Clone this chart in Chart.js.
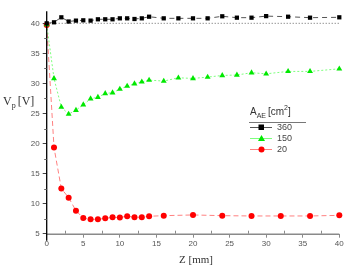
<!DOCTYPE html>
<html lang="en">
<head>
<meta charset="UTF-8">
<title>Vp vs Z</title>
<script src="https://cdn.jsdelivr.net/npm/chart.js"></script>
<style>
  html, body { margin: 0; padding: 0; background: #fff; }
  #wrap { width: 354px; height: 273px; }
</style>
</head>
<body>
<div id="wrap"><canvas id="vpChart" width="354" height="273"></canvas></div>
<script>
// Z positions (mm)
const zLong = [0, 1, 2, 3, 4, 5, 6, 7, 8, 9, 10, 11, 12, 13, 14, 16, 18, 20, 22, 24, 26, 28, 30, 33, 36, 40];
const zRed = [0, 1, 2, 3, 4, 5, 6, 7, 8, 9, 10, 11, 12, 13, 14, 16, 20, 24, 28, 32, 36, 40];

// Vp (V) for A_AE = 360, 150, 20 cm2
const vp360 = [40.0, 40.17, 41.0, 40.3, 40.45, 40.5, 40.45, 40.67, 40.67, 40.67, 40.83, 40.83, 40.72,
               40.83, 41.1, 40.83, 40.83, 40.83, 40.83, 41.17, 40.94, 40.94, 41.2, 41.1, 40.94, 41.0];
const vp150 = [39.8, 30.83, 26.05, 24.9, 25.55, 26.45, 27.45, 27.7, 28.33, 28.45, 29.05, 29.55, 29.95,
               30.27, 30.55, 30.39, 30.94, 30.83, 31.05, 31.33, 31.4, 31.78, 31.6, 32.0, 32.0, 32.43];
const vp20 = [39.7, 19.33, 12.5, 11.0, 8.83, 7.6, 7.4, 7.4, 7.55, 7.73, 7.7, 7.9, 7.75,
              7.75, 7.9, 8.0, 8.12, 8.0, 7.95, 7.95, 7.95, 8.05];

// dotted reference level
const refZ = [0, 40];
const refV = [40, 40];

const legendTitle = 'A';
const legendLabels = ['360', '150', '20'];

const yTicks = [5, 10, 15, 20, 25, 30, 35, 40];
const xTicks = [0, 5, 10, 15, 20, 25, 30, 35, 40];

const pts = (xs, ys) => xs.map((x, i) => ({ x: x, y: ys[i] }));

const decor = {
  id: 'decor',
  afterDraw(chart) {
    const ctx = chart.ctx;
    const xs = chart.scales.x, ys = chart.scales.y;
    const a = chart.chartArea;
    ctx.save();

    // x axis line (grey) + minor ticks inward
    ctx.strokeStyle = '#8a8a8a';
    ctx.lineWidth = 1.5;
    ctx.beginPath();
    ctx.moveTo(a.left, a.bottom + 0.5);
    ctx.lineTo(a.right, a.bottom + 0.5);
    ctx.stroke();
    ctx.lineWidth = 1;
    for (let v = 2.5; v < 40; v += 5) {
      const px = Math.round(xs.getPixelForValue(v)) + 0.5;
      ctx.beginPath();
      ctx.moveTo(px, a.bottom);
      ctx.lineTo(px, a.bottom - 3);
      ctx.stroke();
    }

    // y axis line (black) + minor ticks
    ctx.strokeStyle = '#000';
    ctx.lineWidth = 1.3;
    ctx.beginPath();
    ctx.moveTo(a.left, a.top);
    ctx.lineTo(a.left, a.bottom + 7);
    ctx.stroke();
    ctx.lineWidth = 1;
    ctx.strokeStyle = '#666';
    for (let v = 7.5; v < 42; v += 5) {
      const py = Math.round(ys.getPixelForValue(v)) + 0.5;
      ctx.beginPath();
      ctx.moveTo(a.left - 2.5, py);
      ctx.lineTo(a.left, py);
      ctx.stroke();
    }

    // axis titles
    ctx.fillStyle = '#333';
    ctx.textBaseline = 'alphabetic';
    ctx.font = '12px "Liberation Serif"';
    ctx.textAlign = 'left';
    let x = 3, y = 105;
    ctx.fillText('V', x, y);
    x += ctx.measureText('V').width;
    ctx.font = '8px "Liberation Serif"';
    ctx.fillText('p', x, y + 3);
    x += ctx.measureText('p').width + 2;
    ctx.font = '12px "Liberation Serif"';
    ctx.fillText('[V]', x, y);

    ctx.font = '11px "Liberation Serif"';
    ctx.textAlign = 'center';
    ctx.fillText('Z [mm]', (a.left + a.right) / 2 + 3, 263);

    // legend
    ctx.textAlign = 'left';
    ctx.font = '10px "Liberation Sans"';
    let lx = 250, ly = 115;
    ctx.fillText(legendTitle, lx, ly);
    lx += ctx.measureText(legendTitle).width;
    ctx.font = '7px "Liberation Sans"';
    ctx.fillText('AE', lx, ly + 3);
    lx += ctx.measureText('AE').width + 2;
    ctx.font = '10px "Liberation Sans"';
    ctx.fillText('[cm', lx, ly);
    lx += ctx.measureText('[cm').width;
    ctx.font = '7px "Liberation Sans"';
    ctx.fillText('2', lx, ly - 5);
    lx += ctx.measureText('2').width;
    ctx.font = '10px "Liberation Sans"';
    ctx.fillText(']', lx, ly);

    ctx.strokeStyle = '#777';
    ctx.lineWidth = 1;
    ctx.beginPath();
    ctx.moveTo(249, 122.5);
    ctx.lineTo(306, 122.5);
    ctx.stroke();

    const ds = chart.data.datasets;
    const rows = [127.5, 138.5, 149.5];
    ctx.font = '9px "Liberation Sans"';
    ctx.textBaseline = 'middle';
    for (let i = 0; i < 3; i++) {
      const d = ds[i];
      const ry = rows[i];
      ctx.strokeStyle = d.borderColor;
      ctx.lineWidth = 1;
      ctx.beginPath();
      ctx.moveTo(250, ry);
      ctx.lineTo(272, ry);
      ctx.stroke();
      ctx.fillStyle = d.pointBackgroundColor;
      if (d.pointStyle === 'rect') {
        ctx.fillRect(258.5, ry - 3, 5.5, 5.5);
      } else if (d.pointStyle === 'triangle') {
        ctx.beginPath();
        ctx.moveTo(261.5, ry - 3.5);
        ctx.lineTo(265, ry + 2.5);
        ctx.lineTo(258, ry + 2.5);
        ctx.closePath();
        ctx.fill();
      } else {
        ctx.beginPath();
        ctx.arc(261.5, ry, 3, 0, Math.PI * 2);
        ctx.fill();
      }
      ctx.fillStyle = '#444';
      ctx.fillText(legendLabels[i], 277, ry + 0.5);
    }
    ctx.restore();
  }
};

new Chart(document.getElementById('vpChart'), {
  type: 'scatter',
  data: {
    datasets: [
      {
        label: legendLabels[0],
        data: pts(zLong, vp360),
        showLine: true,
        borderColor: '#555',
        borderWidth: 1,
        borderDash: [5, 4],
        pointStyle: 'rect',
        pointRadius: 3,
        pointBackgroundColor: '#000',
        pointBorderColor: '#000',
        pointBorderWidth: 0,
        clip: false
      },
      {
        label: legendLabels[1],
        data: pts(zLong, vp150),
        showLine: true,
        borderColor: '#7dff7d',
        borderWidth: 1,
        borderDash: [2, 2],
        pointStyle: 'triangle',
        pointRadius: 3.4,
        pointBackgroundColor: '#00e800',
        pointBorderColor: '#00e800',
        pointBorderWidth: 0,
        clip: false
      },
      {
        label: legendLabels[2],
        data: pts(zRed, vp20),
        showLine: true,
        borderColor: '#ff8080',
        borderWidth: 1,
        borderDash: [5, 3],
        pointStyle: 'circle',
        pointRadius: 3,
        pointBackgroundColor: '#ff0000',
        pointBorderColor: '#ff0000',
        pointBorderWidth: 0,
        clip: false
      },
      {
        label: 'ref',
        data: pts(refZ, refV),
        showLine: true,
        borderColor: '#666',
        borderWidth: 1,
        borderDash: [1, 2],
        pointRadius: 0,
        clip: false
      }
    ]
  },
  options: {
    responsive: false,
    animation: false,
    layout: { padding: { left: 0, right: 14.7, top: 11.3, bottom: 0 } },
    plugins: {
      legend: { display: false },
      tooltip: { enabled: false }
    },
    scales: {
      x: {
        type: 'linear',
        min: 0,
        max: 40,
        afterBuildTicks: s => { s.ticks = xTicks.map(v => ({ value: v })); },
        afterFit: s => { s.height = 39.3; },
        border: { display: false },
        grid: { drawOnChartArea: false, drawTicks: true, tickLength: 4, color: '#8a8a8a' },
        ticks: { color: '#555', padding: 1, font: { family: 'Liberation Sans', size: 8 } }
      },
      y: {
        type: 'linear',
        min: 5,
        max: 42,
        afterBuildTicks: s => { s.ticks = yTicks.map(v => ({ value: v })); },
        afterFit: s => { s.width = 46.7; },
        border: { display: false },
        grid: { drawOnChartArea: false, drawTicks: true, tickLength: 4, color: '#444' },
        ticks: { color: '#555', padding: 3, font: { family: 'Liberation Sans', size: 8 } }
      }
    }
  },
  plugins: [decor]
});
</script>
</body>
</html>
